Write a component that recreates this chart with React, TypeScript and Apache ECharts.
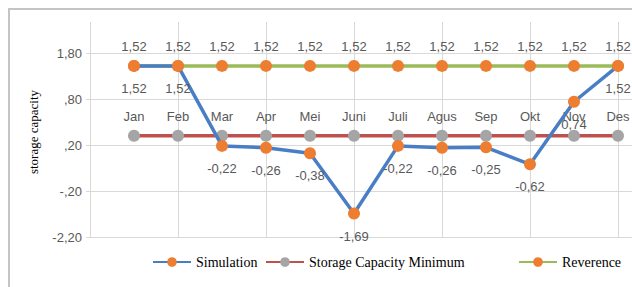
import React, { useEffect, useRef } from "react";
import * as echarts from "echarts";

const months = ["Jan", "Feb", "Mar", "Apr", "Mei", "Juni", "Juli", "Agus", "Sep", "Okt", "Nov", "Des"];
const categories = ["", ...months, ""];
const simulation = [1.52, 1.52, -0.22, -0.26, -0.38, -1.69, -0.22, -0.26, -0.25, -0.62, 0.74, 1.52];
const storageMinimum = [0, 0, 0, 0, 0, 0, 0, 0, 0, 0, 0, 0];
const reverence = [1.52, 1.52, 1.52, 1.52, 1.52, 1.52, 1.52, 1.52, 1.52, 1.52, 1.52, 1.52];
const yTickValues = [-2.2, -1.2, -0.2, 0.8, 1.8];
const yTickLabels = ["-2,20", "-,20", ",20", ",80", "1,80"];

const SANS = "Liberation Sans";
const SERIF = "Liberation Serif";
const LABEL_COLOR = "#595959";
const GRID_COLOR = "#d9d9d9";

const fmt = (v: number) => v.toFixed(2).replace(".", ",");
const pad = (arr: number[]) => [null, ...arr, null];

export default function App() {
  const ref = useRef<HTMLDivElement>(null);
  useEffect(() => {
    if (!ref.current) return;
    const chart = echarts.init(ref.current, null, { renderer: "svg" });
    const labelStyle = { color: LABEL_COLOR, fontFamily: SANS, fontSize: 13 };
    const legendText = { fontFamily: SERIF, fontSize: 14, color: "#000" };
    chart.setOption({
      animation: false,
      textStyle: { fontFamily: SANS },
      graphic: [
        {
          type: "rect",
          shape: { x: 9, y: 9, width: 700, height: 400 },
          style: { fill: "none", stroke: "#c4c4c4", lineWidth: 2 },
          silent: true,
        },
        {
          type: "text",
          x: 33,
          y: 132,
          rotation: Math.PI / 2,
          style: {
            text: "storage capacity",
            fontFamily: SERIF,
            fontSize: 13,
            fill: "#000",
            align: "center",
            verticalAlign: "middle",
          },
        },
      ],
      grid: [
        { left: 90, top: 53, width: 572, height: 184, outerBoundsMode: "none", containLabel: false },
        { left: 90, top: 22, width: 572, height: 215, outerBoundsMode: "none", containLabel: false },
      ],
      xAxis: [
        {
          type: "category",
          gridIndex: 0,
          data: categories,
          boundaryGap: false,
          position: "bottom",
          offset: -135,
          axisLine: { show: false },
          axisTick: { show: false },
          splitLine: { show: false },
          axisLabel: { interval: 0, margin: 8, ...labelStyle },
        },
        {
          type: "category",
          gridIndex: 1,
          data: categories,
          boundaryGap: false,
          axisLine: { show: false },
          axisTick: { show: false },
          axisLabel: { show: false },
          splitLine: { show: true, interval: 1, lineStyle: { color: GRID_COLOR, width: 1 } },
        },
      ],
      yAxis: [
        {
          type: "value",
          gridIndex: 0,
          min: -2.2,
          max: 1.8,
          interval: 1,
          axisLine: { show: false },
          axisTick: { show: true, length: 4, lineStyle: { color: GRID_COLOR } },
          splitLine: { show: true, lineStyle: { color: GRID_COLOR, width: 1 } },
          axisLabel: {
            margin: 8,
            ...labelStyle,
            formatter: (v: number) => {
              let best = 0;
              yTickValues.forEach((t, i) => {
                if (Math.abs(t - v) < Math.abs(yTickValues[best] - v)) best = i;
              });
              return yTickLabels[best];
            },
          },
        },
        {
          type: "value",
          gridIndex: 1,
          show: false,
          splitLine: { show: false },
        },
      ],
      legend: [
        {
          data: ["Simulation"],
          left: 147,
          top: 250,
          itemWidth: 38,
          itemHeight: 12,
          textStyle: legendText,
        },
        {
          data: ["Storage Capacity Minimum"],
          left: 260,
          top: 250,
          itemWidth: 38,
          itemHeight: 12,
          textStyle: legendText,
        },
        {
          data: ["Reverence"],
          left: 513,
          top: 250,
          itemWidth: 38,
          itemHeight: 12,
          textStyle: legendText,
        },
      ],
      series: [
        {
          name: "Storage Capacity Minimum",
          type: "line",
          xAxisIndex: 0,
          yAxisIndex: 0,
          data: pad(storageMinimum),
          symbol: "circle",
          symbolSize: 12,
          lineStyle: { color: "#C0504D", width: 3.5 },
          itemStyle: { color: "#A5A5A5" },
          z: 2,
        },
        {
          name: "Reverence",
          type: "line",
          xAxisIndex: 0,
          yAxisIndex: 0,
          data: pad(reverence),
          symbol: "circle",
          symbolSize: 12,
          lineStyle: { color: "#9BBB59", width: 3.5 },
          itemStyle: { color: "#ED7D31" },
          label: {
            show: true,
            position: "top",
            distance: 7,
            ...labelStyle,
            formatter: (p: any) => fmt(p.value),
          },
          z: 3,
        },
        {
          name: "Simulation",
          type: "line",
          xAxisIndex: 0,
          yAxisIndex: 0,
          data: pad(simulation),
          symbol: "circle",
          symbolSize: 12,
          lineStyle: { color: "#4A7EC4", width: 3.5 },
          itemStyle: { color: "#ED7D31" },
          label: {
            show: true,
            position: "bottom",
            distance: 10,
            ...labelStyle,
            formatter: (p: any) => fmt(p.value),
          },
          z: 4,
        },
      ],
    });
    return () => chart.dispose();
  }, []);
  return (
    <div
      ref={ref}
      style={{ position: "fixed", left: 0, top: 0, width: 632, height: 287, background: "#fff" }}
    />
  );
}
